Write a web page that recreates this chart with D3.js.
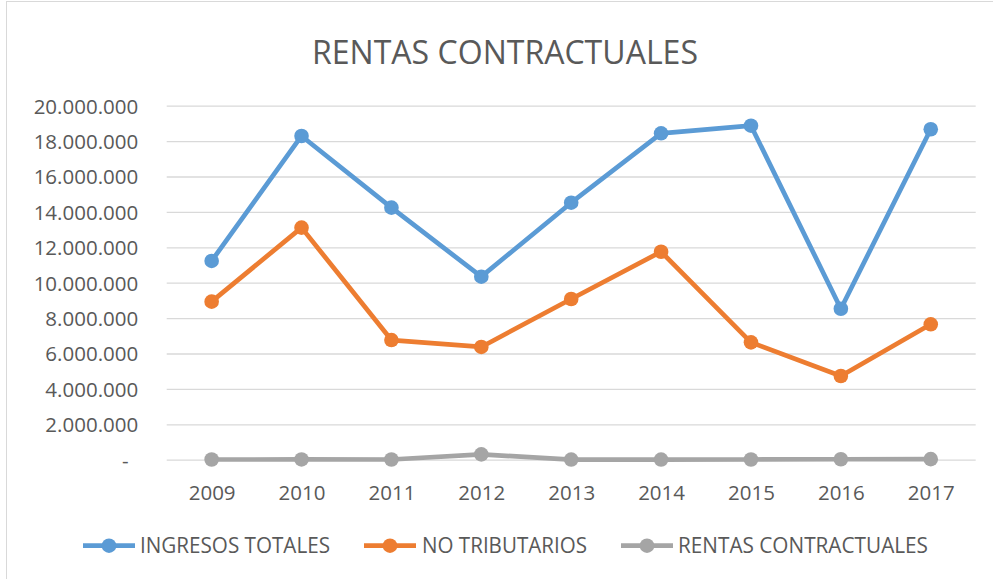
<!DOCTYPE html>
<html>
<head>
<meta charset="utf-8">
<script src="https://cdn.jsdelivr.net/npm/d3@7"></script>
<style>
  html, body { margin: 0; padding: 0; background: #fff; }
  svg { display: block; font-family: "Open Sans", "Noto Sans", sans-serif; }
</style>
</head>
<body>
<svg id="chart" width="993" height="579"></svg>
<script>
const years = ["2009","2010","2011","2012","2013","2014","2015","2016","2017"];
const ingresosTotales = [11230000, 18290000, 14240000, 10340000, 14520000, 18440000, 18870000, 8530000, 18670000];
const noTributarios   = [8930000, 13110000, 6760000, 6370000, 9080000, 11750000, 6630000, 4730000, 7650000];
const rentasContractuales = [10000, 15000, 12000, 300000, 8000, 9000, 11000, 25000, 30000];
const yTicks = [0, 2000000, 4000000, 6000000, 8000000, 10000000, 12000000, 14000000, 16000000, 18000000, 20000000];
const seriesNames = ["INGRESOS TOTALES", "NO TRIBUTARIOS", "RENTAS CONTRACTUALES"];
const seriesColors = ["#5B9BD5", "#ED7D31", "#A5A5A5"];
const titleText = "RENTAS CONTRACTUALES";

const series = [ingresosTotales, noTributarios, rentasContractuales].map((vals, i) => ({
  name: seriesNames[i], color: seriesColors[i], values: vals
}));

const svg = d3.select("#chart");
const textColor = "#595959";

// chart border
svg.append("rect").attr("x", 6.5).attr("y", 1.5).attr("width", 1000).attr("height", 600)
  .attr("fill", "#fff").attr("stroke", "#D9D9D9").attr("stroke-width", 1);

const x = d3.scalePoint().domain(years).range([166.7, 975.7]).padding(0.5);
const y = d3.scaleLinear().domain([0, 20000000]).range([459.7, 105.7]);

// title
svg.append("text").attr("x", 505).attr("y", 64.3).attr("text-anchor", "middle")
  .attr("font-size", 33).attr("fill", textColor)
  .attr("textLength", 386).attr("lengthAdjust", "spacingAndGlyphs")
  .text(titleText);

// gridlines
const fmt = v => v === 0 ? "-" : d3.format(",")(v).replace(/,/g, ".");
const yAxis = d3.axisLeft(y).tickValues(yTicks).tickSize(-(975.7 - 166.7)).tickPadding(0).tickFormat(fmt);
const gy = svg.append("g").attr("transform", "translate(166.7,0)").call(yAxis);
gy.select(".domain").remove();
gy.selectAll(".tick line").attr("stroke", "#D9D9D9").attr("stroke-width", 1.3);
gy.selectAll(".tick text")
  .attr("x", d => d === 0 ? -38 : -28.5)
  .attr("dy", "0.36em")
  .attr("font-size", 20.5).attr("fill", textColor).attr("font-family", "'Open Sans', sans-serif");

// x axis labels
const xAxis = d3.axisBottom(x).tickSize(0).tickPadding(0);
const gx = svg.append("g").attr("transform", "translate(0,459.7)").call(xAxis);
gx.select(".domain").remove();
gx.selectAll(".tick text").attr("y", 40.3).attr("dy", 0)
  .attr("font-size", 20.5).attr("fill", textColor).attr("font-family", "'Open Sans', sans-serif");

// lines
const line = d3.line().x((d, i) => x(years[i])).y(d => y(d));
const gs = svg.append("g").selectAll("g").data(series.slice().reverse()).join("g");
gs.append("path").attr("d", d => line(d.values)).attr("fill", "none")
  .attr("stroke", d => d.color).attr("stroke-width", 4.7).attr("stroke-linejoin", "round");
gs.selectAll("circle").data(d => d.values.map((v, i) => ({v, i, c: d.color}))).join("circle")
  .attr("cx", d => x(years[d.i])).attr("cy", d => y(d.v)).attr("r", 7.3).attr("fill", d => d.c);

// legend
const legendItems = [
  {x0: 83, x1: 135, tx: 140, tw: 190},
  {x0: 364, x1: 416, tx: 422, tw: 165},
  {x0: 621, x1: 673, tx: 678, tw: 250}
];
const ly = 545.7;
const lg = svg.append("g").selectAll("g").data(series).join("g");
lg.append("line").attr("x1", (d, i) => legendItems[i].x0).attr("x2", (d, i) => legendItems[i].x1)
  .attr("y1", ly).attr("y2", ly).attr("stroke", d => d.color).attr("stroke-width", 4.7);
lg.append("circle").attr("cx", (d, i) => (legendItems[i].x0 + legendItems[i].x1) / 2).attr("cy", ly)
  .attr("r", 7.3).attr("fill", d => d.color);
lg.append("text").attr("x", (d, i) => legendItems[i].tx).attr("y", ly + 7.6)
  .attr("font-size", 21).attr("fill", textColor)
  .attr("textLength", (d, i) => legendItems[i].tw).attr("lengthAdjust", "spacingAndGlyphs")
  .text(d => d.name);
</script>
</body>
</html>
